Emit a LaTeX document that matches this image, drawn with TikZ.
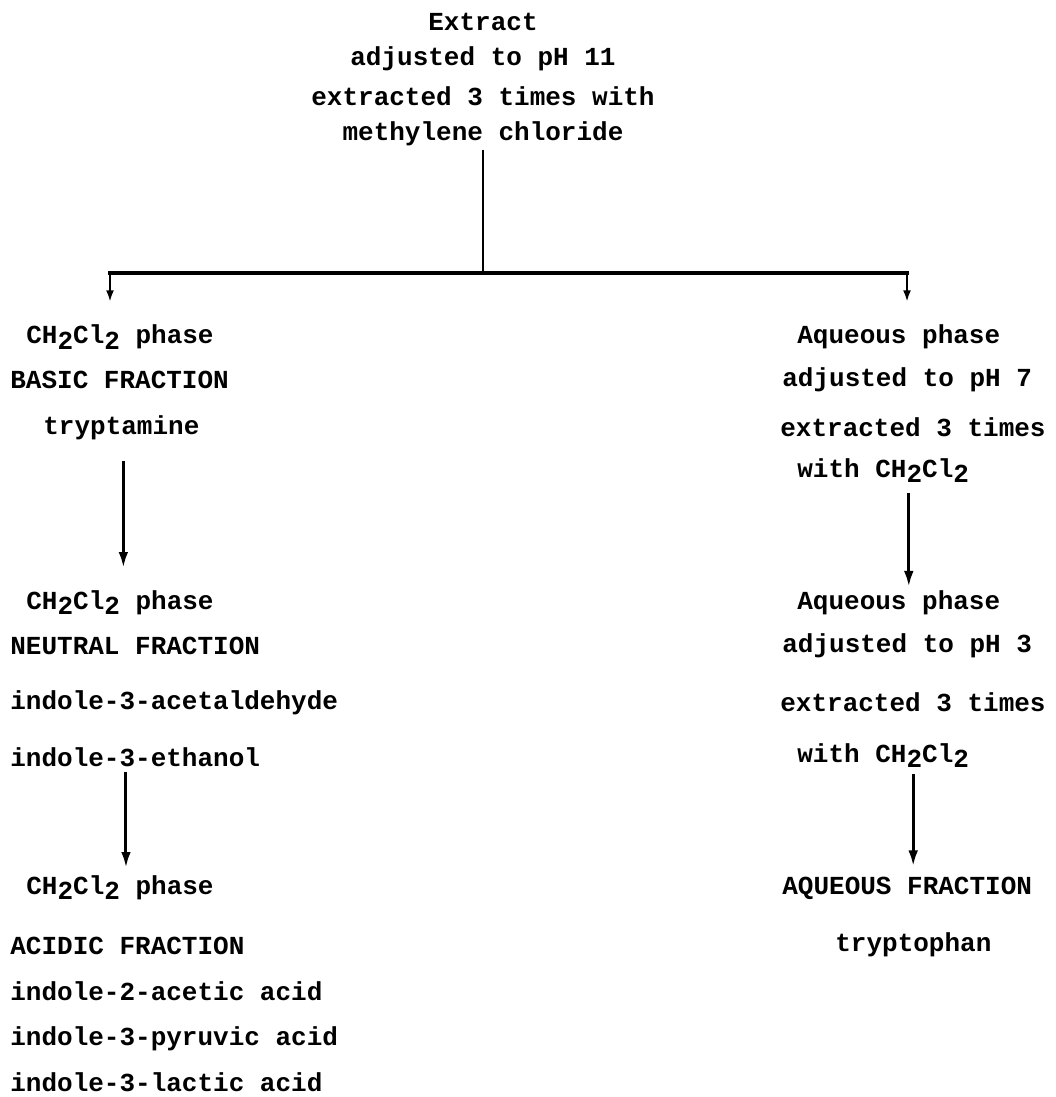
\documentclass[tikz,border=0pt]{standalone}
\usepackage{fontspec}
\setmainfont{Liberation Mono}
\usetikzlibrary{arrows.meta}
\newcommand{\lowtwo}{\raisebox{-3.4pt}{2}}
\newcommand{\dcm}{CH\lowtwo Cl\lowtwo}

\begin{document}
\begin{tikzpicture}[
  x=0.02cm, y=-0.02cm,
  >={Latex[length=9pt,width=5.5pt]},
  entry/.style={anchor=base west,inner sep=0pt,font=\fontsize{14.8pt}{18pt}\selectfont\bfseries},
  title/.style={entry,anchor=base},
  flow/.style={->,line width=1.7pt},
  branch/.style={-{Latex[length=6.5pt,width=4.5pt]},line width=1.2pt}
]
\useasboundingbox (0,0) rectangle (1055,1097);

% starting material
\node[title] (extract) at (483,31) {Extract};
\node[title] (ph11) at (483,66) {adjusted to pH 11};
\node[title] (ext11) at (483,106) {extracted 3 times with};
\node[title] (mecl) at (483,141) {methylene chloride};

% split
\coordinate (split) at (483,273);
\coordinate (barl) at (110,273);
\coordinate (barr) at (907,273);
\draw[line width=1.5pt,shorten <=0.06cm] (mecl.south) -- (split);
\draw[line width=2.8pt] ([xshift=-0.04cm]barl) -- ([xshift=0.04cm]barr);

% left column
\node[entry] (dcmA) at (26,344) {\dcm{} phase};
\node[entry] (basic) at (10,389) {BASIC FRACTION};
\node[entry] (trypt) at (43,435) {tryptamine};
\node[entry] (dcmB) at (26,609) {\dcm{} phase};
\node[entry] (neutral) at (10,654) {NEUTRAL FRACTION};
\node[entry] (ald) at (10,709) {indole-3-acetaldehyde};
\node[entry] (etoh) at (10,766) {indole-3-ethanol};
\node[entry] (dcmC) at (26,894) {\dcm{} phase};
\node[entry] (acidic) at (10,954) {ACIDIC FRACTION};
\node[entry] (iaa) at (10,1000) {indole-2-acetic acid};
\node[entry] (ipa) at (10,1045) {indole-3-pyruvic acid};
\node[entry] (ila) at (10,1091) {indole-3-lactic acid};

% right column
\node[entry] (aqA) at (797,344) {Aqueous phase};
\node[entry] (ph7) at (782,387) {adjusted to pH 7};
\node[entry] (ext7) at (780,437) {extracted 3 times};
\node[entry] (with7) at (797,477) {with \dcm};
\node[entry] (aqB) at (797,609) {Aqueous phase};
\node[entry] (ph3) at (782,652) {adjusted to pH 3};
\node[entry] (ext3) at (780,711) {extracted 3 times};
\node[entry] (with3) at (797,762) {with \dcm};
\node[entry] (aqueous) at (782,894) {AQUEOUS FRACTION};
\node[entry] (trp) at (835,951) {tryptophan};

% connectors
\draw[branch,shorten >=0.46cm] (barl) -- (barl |- dcmA.north);
\draw[branch,shorten >=0.46cm] (barr) -- (barr |- aqA.north);
\draw[flow,shorten <=0.4cm,shorten >=0.44cm] ([xshift=0.04cm]trypt.south) -- ([xshift=0.04cm]trypt.south |- dcmB.north);
\draw[flow,shorten <=0.1cm,shorten >=0.14cm] ([xshift=0.12cm]dcmC.north |- etoh.south) -- ([xshift=0.12cm]dcmC.north);
\draw[flow,shorten <=0.2cm,shorten >=0.06cm] ([xshift=0.2cm]aqB.north |- with7.south) -- ([xshift=0.2cm]aqB.north);
\draw[flow,shorten <=0.12cm,shorten >=0.2cm] ([xshift=0.12cm]aqueous.north |- with3.south) -- ([xshift=0.12cm]aqueous.north);
\end{tikzpicture}
\end{document}
